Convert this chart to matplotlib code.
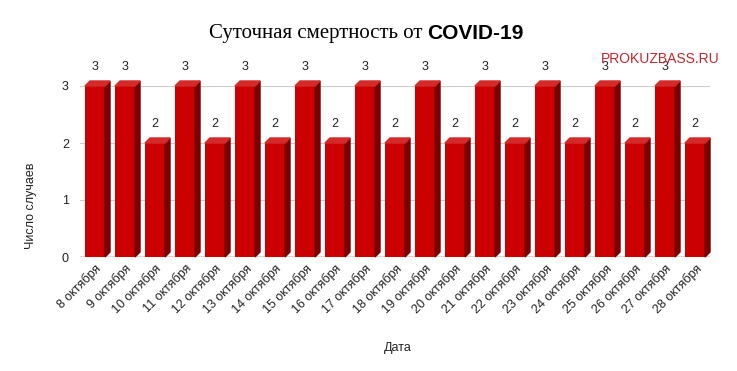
import matplotlib
matplotlib.use('Agg')
from matplotlib import pyplot as plt
from matplotlib.patches import Polygon

plt.rcParams['font.family'] = ['Liberation Sans', 'DejaVu Sans']

# данные
days = [str(d) + ' октября' for d in range(8, 29)]
deaths = [3, 3, 2, 3, 2, 3, 2, 3, 2, 3, 2, 3, 2, 3, 2, 3, 2, 3, 2, 3, 2]

front = '#cc0000'
side = '#7a0000'
top = '#d42a2a'

fig = plt.figure(figsize=(7.37, 3.71), dpi=100)
ax = fig.add_axes([80 / 737, 114 / 371, 630 / 737, 171 / 371])

xs = list(range(len(days)))
w = 0.667
ax.bar(xs, deaths, width=w, color=front, zorder=3)

# псевдо-3D: боковая и верхняя грани
dx, dy = 0.167, 0.088
for x, v in zip(xs, deaths):
    r = x + w / 2
    l = x - w / 2
    ax.add_patch(Polygon([(r, 0), (r + dx, dy), (r + dx, v + dy), (r, v)],
                         closed=True, color=side, zorder=3, clip_on=False))
    ax.add_patch(Polygon([(l, v), (l + dx, v + dy), (r + dx, v + dy), (r, v)],
                         closed=True, color=top, zorder=3, clip_on=False))
    ax.text(x, v + 0.33, str(v), ha='center', va='center', fontsize=9,
            color='#222222', clip_on=False)

ax.set_xlim(-0.5, len(days) - 0.5)
ax.set_ylim(0, 3)
ax.set_yticks([0, 1, 2, 3])
ax.yaxis.grid(True, color='#cccccc', linewidth=0.8, zorder=0)
ax.axhline(0, color='#444444', linewidth=1, zorder=2)
for s in ax.spines.values():
    s.set_visible(False)
ax.tick_params(length=0, labelsize=9, colors='#222222')
ax.tick_params(axis='y', pad=8)
ax.set_xticks(xs)
ax.set_xticklabels(days, rotation=45, ha='right', rotation_mode='anchor')

ax.set_xlabel('Дата', fontsize=9, color='#222222')
ax.set_ylabel('Число случаев', fontsize=9, color='#222222')
ax.yaxis.set_label_coords(-0.068, 0.3)
ax.xaxis.set_label_coords(0.505, -0.5)

fig.text(0.58, 0.91, 'Суточная смертность от ', fontsize=15,
         family=['Liberation Serif', 'DejaVu Serif'], ha='right', va='center')
fig.text(0.58, 0.91, 'COVID-19', fontsize=15, fontweight='bold',
         ha='left', va='center')
fig.text(0.977, 0.84, 'PROKUZBASS.RU', fontsize=10, color='#c0282d',
         ha='right', va='center')

fig.savefig('out.png', dpi=100)
